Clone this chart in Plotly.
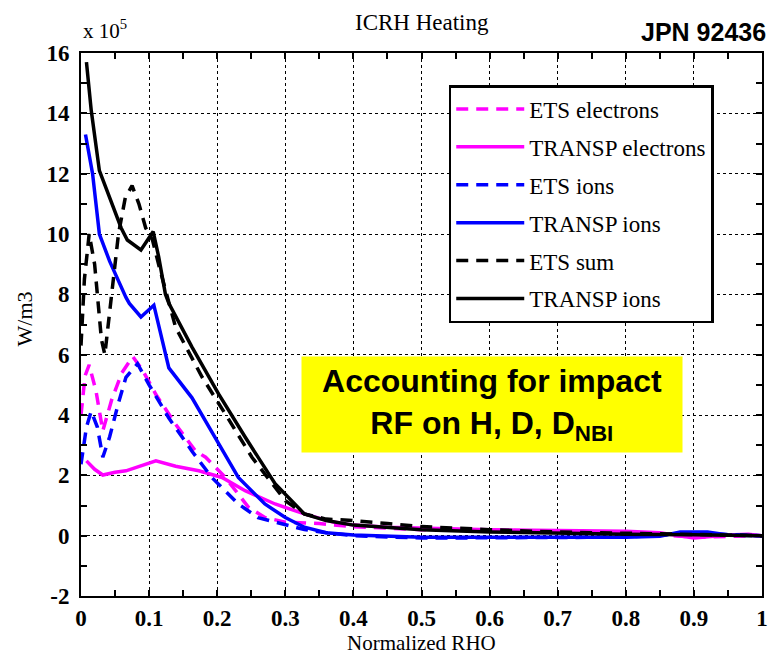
import plotly.graph_objects as go

# ICRH heating power density profiles (units of 1e5 W/m3) vs normalized rho
rho_ets_el = [0.0, 0.006, 0.012, 0.022, 0.032, 0.045, 0.06, 0.076, 0.09, 0.11, 0.139, 0.168, 0.183,
              0.212, 0.246, 0.27, 0.3, 0.35, 0.4, 0.5, 0.6, 0.7, 0.8, 0.9, 1.0]
ets_el = [4.0, 5.3, 5.66, 4.8, 3.47, 4.5, 5.4, 5.94, 5.5, 4.68, 3.69, 2.81, 2.6,
          1.93, 0.94, 0.6, 0.45, 0.4, 0.3, 0.2, 0.18, 0.15, 0.12, -0.05, 0.0]

rho_tr_el = [0.008, 0.02, 0.032, 0.05, 0.066, 0.088, 0.11, 0.139, 0.173, 0.207, 0.241, 0.285,
             0.328, 0.37, 0.4, 0.45, 0.5, 0.6, 0.7, 0.8, 0.85, 0.9, 0.95, 0.98, 1.0]
tr_el = [2.48, 2.2, 2.01, 2.1, 2.15, 2.3, 2.48, 2.3, 2.15, 1.93, 1.49, 1.05,
         0.72, 0.45, 0.35, 0.28, 0.25, 0.2, 0.17, 0.15, 0.1, -0.08, 0.02, 0.05, 0.0]

rho_ets_ion = [0.0, 0.008, 0.015, 0.024, 0.032, 0.042, 0.055, 0.066, 0.083, 0.1, 0.129, 0.163,
               0.192, 0.231, 0.26, 0.3, 0.328, 0.36, 0.4, 0.5, 0.6, 0.7, 0.8, 0.9, 1.0]
ets_ion = [2.37, 3.6, 4.13, 3.6, 2.6, 3.27, 4.4, 5.25, 5.7, 5.0, 3.9, 2.8,
           1.93, 1.05, 0.6, 0.35, 0.2, 0.1, 0.0, -0.08, -0.08, -0.06, -0.05, 0.08, 0.0]

rho_tr_ion = [0.0066, 0.017, 0.027, 0.042, 0.066, 0.071, 0.088, 0.107, 0.129, 0.163, 0.197, 0.231,
              0.27, 0.3, 0.328, 0.36, 0.4, 0.5, 0.6, 0.7, 0.8, 0.85, 0.88, 0.92, 0.95, 1.0]
tr_ion = [13.3, 12.0, 10.0, 9.1, 7.9, 7.7, 7.25, 7.64, 5.56, 4.57, 3.25, 1.93,
          1.05, 0.6, 0.28, 0.1, 0.02, -0.05, -0.05, -0.05, -0.05, -0.02, 0.12, 0.12, 0.02, 0.0]

rho_ets_sum = [0.0, 0.005, 0.012, 0.02, 0.03, 0.035, 0.045, 0.055, 0.065, 0.075, 0.085, 0.095,
               0.105, 0.115, 0.139, 0.178, 0.212, 0.251, 0.3, 0.328, 0.36, 0.4, 0.45, 0.5,
               0.6, 0.7, 0.8, 0.9, 1.0]
ets_sum = [6.3, 8.5, 10.0, 9.0, 6.5, 6.0, 8.0, 10.0, 11.2, 11.6, 11.0, 10.2,
           9.8, 8.9, 6.9, 5.25, 4.03, 2.6, 1.16, 0.72, 0.55, 0.5, 0.4, 0.3,
           0.2, 0.12, 0.08, 0.05, 0.0]

rho_tr_sum = [0.008, 0.015, 0.027, 0.042, 0.059, 0.068, 0.088, 0.106, 0.114, 0.124, 0.129, 0.163,
              0.202, 0.241, 0.285, 0.328, 0.36, 0.4, 0.5, 0.6, 0.7, 0.8, 0.9, 1.0]
tr_sum = [15.7, 14.1, 12.1, 11.2, 10.2, 9.8, 9.47, 10.08, 9.25, 8.0, 7.7, 6.25,
          4.7, 3.27, 1.72, 0.72, 0.5, 0.35, 0.2, 0.12, 0.08, 0.05, 0.03, 0.0]

series = [
    ("ETS electrons", rho_ets_el, ets_el, "#ff00ff", "12px,8px"),
    ("TRANSP electrons", rho_tr_el, tr_el, "#ff00ff", "solid"),
    ("ETS ions", rho_ets_ion, ets_ion, "#0000ff", "12px,8px"),
    ("TRANSP ions", rho_tr_ion, tr_ion, "#0000ff", "solid"),
    ("ETS sum", rho_ets_sum, ets_sum, "#000000", "12px,8px"),
    ("TRANSP ions", rho_tr_sum, tr_sum, "#000000", "solid"),
]

x_ticks = [0, 0.1, 0.2, 0.3, 0.4, 0.5, 0.6, 0.7, 0.8, 0.9, 1.0]
x_labels = ["0", "0.1", "0.2", "0.3", "0.4", "0.5", "0.6", "0.7", "0.8", "0.9", "1"]
y_ticks = [-2, 0, 2, 4, 6, 8, 10, 12, 14, 16]
y_labels = ["-2", "0", "2", "4", "6", "8", "10", "12", "14", "16"]

SERIF = "Liberation Serif"
SANS = "Liberation Sans"

fig = go.Figure()
for i, (name, xs, ys, color, dash) in enumerate(series):
    fig.add_trace(go.Scatter(
        x=xs, y=ys, mode="lines", name=name,
        line=dict(color=color, width=3.5, dash=dash),
        legendgroup=f"g{i}",
    ))

axis_common = dict(
    showline=True, linecolor="black", linewidth=2, mirror="ticks",
    ticks="inside", ticklen=6, tickcolor="black", tickwidth=1.5,
    showgrid=True, gridcolor="black", griddash="dot", gridwidth=1,
    zeroline=False,
    tickfont=dict(family=SERIF, size=23, color="black", weight="bold"),
)

fig.update_xaxes(
    range=[0, 1], tickvals=x_ticks, ticktext=x_labels, ticklabelstandoff=0,
    minor=dict(dtick=0.05, ticks="inside", ticklen=6, tickcolor="black", showgrid=False),
    **axis_common,
)
fig.update_yaxes(
    range=[-2, 16], tickvals=y_ticks, ticktext=y_labels, ticklabelstandoff=5,
    minor=dict(dtick=1, ticks="inside", ticklen=6, tickcolor="black", showgrid=False),
    **axis_common,
)

fig.update_layout(
    width=776, height=654,
    margin=dict(l=81, r=8, t=53, b=58),
    paper_bgcolor="white", plot_bgcolor="white",
    showlegend=True,
    legend=dict(
        x=0.54, y=(596 - 85) / 543, xanchor="left", yanchor="top",
        bgcolor="white", bordercolor="black", borderwidth=2.5,
        font=dict(family=SERIF, size=23, color="black"),
        tracegroupgap=5, traceorder="grouped", itemwidth=68,
    ),
)

# axis titles
fig.add_annotation(text="Normalized RHO", xref="paper", yref="paper", x=0.5, y=(596 - 643) / 543,
                   showarrow=False, xanchor="center", yanchor="middle",
                   font=dict(family=SERIF, size=21, color="black"))
fig.add_annotation(text="W/m3", xref="paper", yref="paper", x=(24 - 81) / 687, y=(596 - 319) / 543,
                   showarrow=False, xanchor="center", yanchor="middle", textangle=-90,
                   font=dict(family=SERIF, size=22, color="black"))

# title, scale factor and shot number
fig.add_annotation(text="ICRH Heating", xref="paper", yref="paper", x=0.5, y=1.0,
                   yshift=31, showarrow=False, xanchor="center", yanchor="middle",
                   font=dict(family=SERIF, size=23, color="black"))
fig.add_annotation(text="x 10<sup>5</sup>", xref="paper", yref="paper", x=0.0, y=1.0,
                   yshift=24, showarrow=False, xanchor="left", yanchor="middle",
                   font=dict(family=SERIF, size=21, color="black"))
fig.add_annotation(text="<b>JPN 92436</b>", xref="paper", yref="paper", x=1.0, y=1.0,
                   yshift=21, xshift=6, showarrow=False, xanchor="right", yanchor="middle",
                   font=dict(family=SANS, size=25, color="black"))

# highlighted note box
fig.add_annotation(text="<b>Accounting for impact<br>RF on H, D, D<sub>NBI</sub></b>",
                   xref="paper", yref="paper", x=(496 - 81) / 687, y=(596 - 404.5) / 543,
                   showarrow=False, xanchor="center", yanchor="middle",
                   width=378, height=93, bgcolor="#ffff00", align="center",
                   font=dict(family=SANS, size=32, color="black"))

fig.write_html("out.html")
